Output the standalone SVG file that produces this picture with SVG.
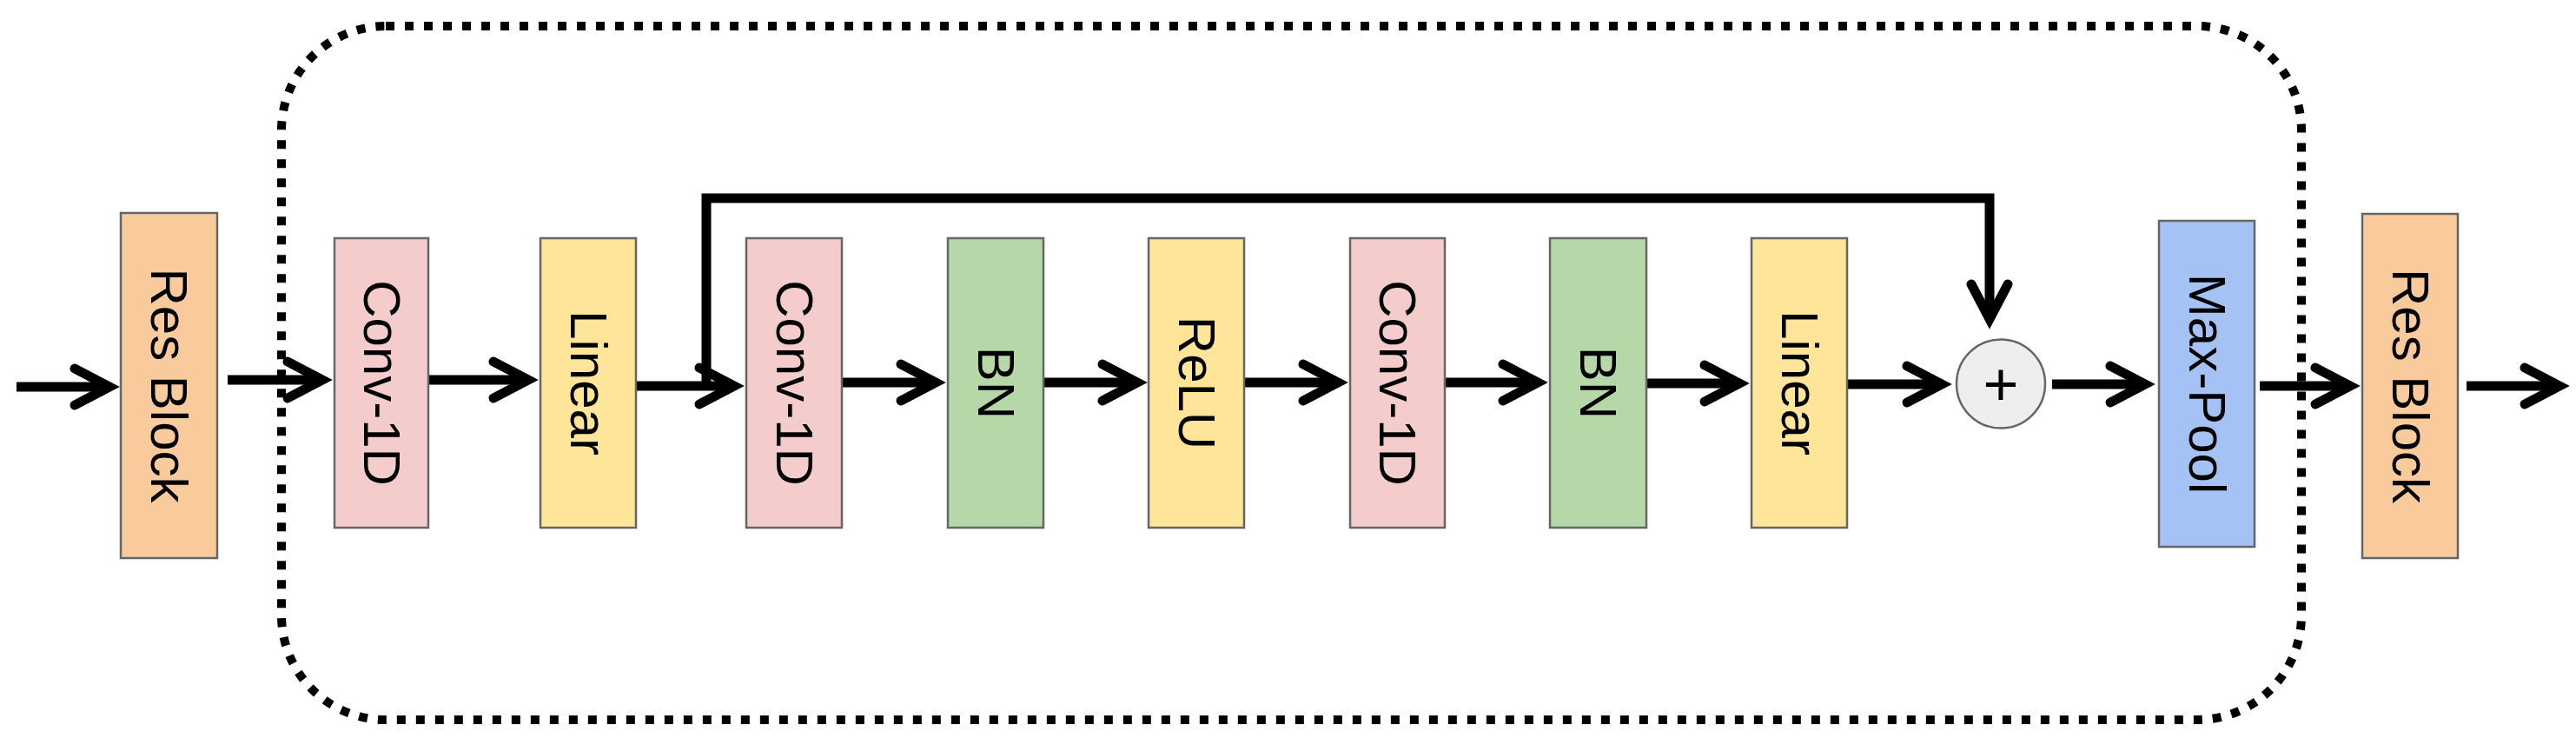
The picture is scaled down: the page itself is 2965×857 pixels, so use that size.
<svg xmlns="http://www.w3.org/2000/svg" width="2965" height="857" viewBox="0 0 2965 857">
<style>
.box{stroke:#666666;stroke-width:2.5}
.rb{fill:#F9CB9C}
.cv{fill:#F4CCCC}
.ln{fill:#FFE599}
.bn{fill:#B6D7A8}
.mp{fill:#A4C2F4}
.lbl{font-family:"Liberation Sans",Arial,sans-serif;font-size:60px;fill:#000000;text-anchor:middle;dominant-baseline:central}
.ar{fill:none;stroke:#000000;stroke-width:11;marker-end:url(#chev)}
</style>
<defs>
<marker id="chev" markerUnits="userSpaceOnUse" markerWidth="60" markerHeight="60" refX="0" refY="0" orient="auto" viewBox="-50 -30 60 60" overflow="visible">
<path d="M -40 -21 L 0 0 L -40 21" fill="none" stroke="#000000" stroke-width="11" stroke-linecap="round" stroke-linejoin="miter"/>
</marker>
</defs>
<rect x="324" y="30" width="2325" height="798" rx="120" ry="120" fill="none" stroke="#000000" stroke-width="10" stroke-dasharray="10 12"/>
<g id="connectors">
<path class="ar" d="M 19 445 H 126"/>
<path class="ar" d="M 262 437 H 371"/>
<path class="ar" d="M 494 437 H 608"/>
<path class="ar" d="M 733 444 H 845"/>
<path class="ar" d="M 969 440 H 1077"/>
<path class="ar" d="M 1201 440 H 1309"/>
<path class="ar" d="M 1432 440 H 1540"/>
<path class="ar" d="M 1663 440 H 1770"/>
<path class="ar" d="M 1895 441 H 2002"/>
<path class="ar" d="M 2126 442 H 2235"/>
<path class="ar" d="M 2362 442 H 2469"/>
<path class="ar" d="M 2601 444 H 2705"/>
<path class="ar" d="M 2839 444 H 2946"/>
<path class="ar" d="M 813 444 V 228 H 2290 V 367" stroke-linejoin="miter"/>
</g>
<g id="resblock1"><rect class="box rb" x="139" y="245" width="111" height="397"/><text class="lbl" transform="translate(194.5 443.5) rotate(90)">Res Block</text></g>
<g id="conv1"><rect class="box cv" x="385" y="274" width="108" height="333"/><text class="lbl" transform="translate(439 440.5) rotate(90)">Conv-1D</text></g>
<g id="linear1"><rect class="box ln" x="622" y="274" width="110" height="333"/><text class="lbl" transform="translate(677 440.5) rotate(90)">Linear</text></g>
<g id="conv2"><rect class="box cv" x="859" y="274" width="110" height="333"/><text class="lbl" transform="translate(914 440.5) rotate(90)">Conv-1D</text></g>
<g id="bn1"><rect class="box bn" x="1091" y="274" width="110" height="333"/><text class="lbl" transform="translate(1146 440.5) rotate(90)">BN</text></g>
<g id="relu"><rect class="box ln" x="1322" y="274" width="110" height="333"/><text class="lbl" transform="translate(1377 440.5) rotate(90)">ReLU</text></g>
<g id="conv3"><rect class="box cv" x="1554" y="274" width="109" height="333"/><text class="lbl" transform="translate(1608.5 440.5) rotate(90)">Conv-1D</text></g>
<g id="bn2"><rect class="box bn" x="1784" y="274" width="111" height="333"/><text class="lbl" transform="translate(1839.5 440.5) rotate(90)">BN</text></g>
<g id="linear2"><rect class="box ln" x="2016" y="274" width="110" height="333"/><text class="lbl" transform="translate(2071 440.5) rotate(90)">Linear</text></g>
<g id="add"><circle cx="2303" cy="441.5" r="51" fill="#EEEEEE" stroke="#666666" stroke-width="2.5"/><text class="lbl" x="2303" y="441.5" style="font-size:70px">+</text></g>
<g id="maxpool"><rect class="box mp" x="2485" y="254" width="110" height="375"/><text class="lbl" transform="translate(2540 441.5) rotate(90)">Max-Pool</text></g>
<g id="resblock2"><rect class="box rb" x="2719" y="246" width="110" height="396"/><text class="lbl" transform="translate(2774 444) rotate(90)">Res Block</text></g>
</svg>
